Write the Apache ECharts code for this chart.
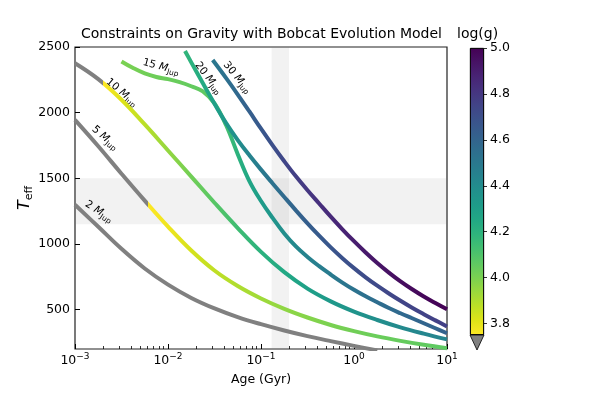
<!DOCTYPE html>
<html>
<head>
<meta charset="utf-8">
<script src="https://cdn.jsdelivr.net/npm/echarts@6/dist/echarts.min.js"></script>
<style>
html,body{margin:0;padding:0;background:#fff;}
#c{width:600px;height:400px;}
</style>
</head>
<body>
<div id="c"></div>
<script>
// ---------- axis ticks ----------
const xTicks = [0.001, 0.01, 0.1, 1, 10];
const xMinorTicks = [0.002,0.003,0.004,0.005,0.006,0.007,0.008,0.009,
                     0.02,0.03,0.04,0.05,0.06,0.07,0.08,0.09,
                     0.2,0.3,0.4,0.5,0.6,0.7,0.8,0.9,
                     2,3,4,5,6,7,8,9];
const yTicks = [500, 1000, 1500, 2000, 2500];
const cbTicks = [3.8, 4.0, 4.2, 4.4, 4.6, 4.8, 5.0];

// ---------- shaded constraint bands ----------
const tBand = [1150, 1500];     // Teff range
const ageBand = [0.13, 0.2];    // age range (Gyr)

// ---------- evolution tracks: age (Gyr), Teff (K), log(g) ----------
const age2  = [0.001, 0.00178, 0.00316, 0.00562, 0.01, 0.0178, 0.0316, 0.0562, 0.1, 0.178, 0.316, 0.562, 1, 1.78];
const teff2 = [1299, 1131, 963, 813, 690, 589, 509, 443, 389, 341, 298, 260, 224, 189];
const logg2 = [3.20, 3.25, 3.30, 3.35, 3.40, 3.44, 3.48, 3.51, 3.54, 3.57, 3.59, 3.61, 3.62, 3.63];

const age5  = [0.001, 0.00178, 0.00316, 0.00562, 0.01, 0.0178, 0.0316, 0.0562, 0.1, 0.178, 0.316, 0.562, 1, 1.78, 3.16, 5.62, 10];
const teff5 = [1945, 1744, 1535, 1330, 1132, 950, 798, 680, 585, 506, 440, 383, 336, 296, 262, 232, 206];
const logg5 = [3.58, 3.63, 3.68, 3.745, 3.78, 3.83, 3.87, 3.90, 3.93, 3.96, 3.98, 4.00, 4.02, 4.035, 4.045, 4.055, 4.065];

const age10  = [0.001, 0.00178, 0.00316, 0.00562, 0.01, 0.0178, 0.0316, 0.0562, 0.1, 0.178, 0.316, 0.562, 1, 1.78, 3.16, 5.62, 10];
const teff10 = [2376, 2255, 2098, 1910, 1712, 1513, 1314, 1121, 940, 785, 660, 563, 485, 421, 365, 317, 273];
const logg10 = [3.65, 3.735, 3.81, 3.88, 3.95, 4.02, 4.08, 4.14, 4.20, 4.25, 4.29, 4.33, 4.36, 4.39, 4.41, 4.43, 4.44];

const age15  = [0.003162, 0.004217, 0.005623, 0.007499, 0.01, 0.01334, 0.01778, 0.02371, 0.03162, 0.04217,
                0.05623, 0.07499, 0.1, 0.1334, 0.1778, 0.2371, 0.3162, 0.4217, 0.5623, 0.7499,
                1, 1.334, 1.778, 2.371, 3.162, 4.217, 5.623, 7.499, 10];
const teff15 = [2390, 2340, 2299, 2272, 2255, 2232, 2201, 2162, 2071, 1904,
                1684, 1479, 1327, 1198, 1080, 981, 901, 831, 767, 706,
                651, 601, 556, 512, 472, 434, 396, 358, 320];
const logg15 = [4.00, 4.01, 4.02, 4.03, 4.035, 4.04, 4.05, 4.06, 4.08, 4.13,
                4.20, 4.26, 4.31, 4.35, 4.39, 4.42, 4.45, 4.47, 4.49, 4.51,
                4.53, 4.54, 4.555, 4.565, 4.575, 4.585, 4.595, 4.60, 4.61];

const age20  = [0.01524, 0.01778, 0.02371, 0.03162, 0.04217, 0.05623, 0.07499, 0.1, 0.1334, 0.1778, 0.2371, 0.3162,
                0.4217, 0.5623, 0.7499, 1, 1.334, 1.778, 2.371, 3.162, 4.217, 5.623, 7.499, 10];
const teff20 = [2470, 2383, 2224, 2068, 1920, 1791, 1675, 1566, 1461, 1358, 1256, 1157,
                1063, 974, 892, 816, 746, 682, 623, 567, 514, 465, 418, 372];
const logg20 = [4.18, 4.20, 4.24, 4.29, 4.34, 4.39, 4.44, 4.49, 4.53, 4.57, 4.60, 4.63,
                4.65, 4.67, 4.69, 4.70, 4.715, 4.725, 4.735, 4.745, 4.75, 4.755, 4.76, 4.765];

const age30  = [0.03024, 0.04217, 0.05623, 0.07499, 0.1, 0.1334, 0.1778, 0.2371, 0.3162, 0.4217, 0.5623,
                0.7499, 1, 1.334, 1.778, 2.371, 3.162, 4.217, 5.623, 7.499, 10];
const teff30 = [2401, 2263, 2138, 2009, 1878, 1751, 1630, 1515, 1409, 1308, 1208,
                1112, 1021, 935, 855, 782, 715, 655, 600, 550, 502];
const logg30 = [4.50, 4.54, 4.58, 4.62, 4.66, 4.70, 4.74, 4.77, 4.80, 4.83, 4.855,
                4.875, 4.895, 4.915, 4.93, 4.945, 4.96, 4.97, 4.98, 4.99, 5.00];

const masses = ['2', '5', '10', '15', '20', '30'];

// ---------- colour map (viridis, reversed, with grey "under" colour) ----------
const VIRIDIS = ['#440154','#471365','#482475','#463480','#414487','#3b528b','#355f8d','#2f6c8e','#2a788e','#25848e',
                 '#21918c','#1e9c89','#22a884','#2fb47c','#44bf70','#5ec962','#7ad151','#9bd93c','#bddf26','#dfe318','#fde725'];
const G_MIN = 3.75, G_MAX = 5.0, UNDER = '#808080';
function hexRgb(h){ return [parseInt(h.substr(1,2),16), parseInt(h.substr(3,2),16), parseInt(h.substr(5,2),16)]; }
function viridis(t){
  t = Math.max(0, Math.min(1, t));
  const p = t * (VIRIDIS.length - 1), i = Math.min(Math.floor(p), VIRIDIS.length - 2), f = p - i;
  const a = hexRgb(VIRIDIS[i]), b = hexRgb(VIRIDIS[i+1]);
  return 'rgb(' + a.map((v,k)=>Math.round(v + (b[k]-v)*f)).join(',') + ')';
}
function gColor(g){
  if (g < G_MIN) return UNDER;
  return viridis(1 - Math.min(1, (g - G_MIN) / (G_MAX - G_MIN)));
}

const curves = [
  {m: '2',  age: age2,  teff: teff2,  logg: logg2},
  {m: '5',  age: age5,  teff: teff5,  logg: logg5},
  {m: '10', age: age10, teff: teff10, logg: logg10},
  {m: '15', age: age15, teff: teff15, logg: logg15},
  {m: '20', age: age20, teff: teff20, logg: logg20},
  {m: '30', age: age30, teff: teff30, logg: logg30}
];

// label anchor (data space) and rotation for the inline mass labels
const labelSpec = {
  '2':  {at: [0.00181, 1246], rot: -33},
  '5':  {at: [0.0021, 1808],  rot: -40},
  '10': {at: [0.00318, 2154], rot: -40},
  '15': {at: [0.0084, 2348],  rot: -15},
  '20': {at: [0.0272, 2264],  rot: -52},
  '30': {at: [0.0555, 2268],  rot: -50}
};

const FONT = 'DejaVu Sans';
const labelRich = {
  n: {fontSize: 10.5, fontFamily: FONT, color: '#000', lineHeight: 14},
  m: {fontSize: 10.5, fontFamily: FONT, fontStyle: 'italic', color: '#000', lineHeight: 14},
  s: {fontSize: 7.5,  fontFamily: FONT, color: '#000', lineHeight: 8, verticalAlign: 'bottom'}
};

const chart = echarts.init(document.getElementById('c'), null, {renderer: 'canvas'});

function buildOption(grads){
  const series = [];
  // bands
  series.push({
    type: 'line', xAxisIndex: 0, yAxisIndex: 0, data: [], z: 1, silent: true,
    markArea: {
      silent: true,
      label: {show: false},
      itemStyle: {color: 'rgba(128,128,128,0.1)'},
      data: [
        [{yAxis: tBand[0]}, {yAxis: tBand[1]}],
        [{xAxis: ageBand[0]}, {xAxis: ageBand[1]}]
      ]
    }
  });
  curves.forEach((c, ci) => {
    const ls = labelSpec[c.m];
    series.push({
      type: 'line', name: c.m + ' MJup', xAxisIndex: 0, yAxisIndex: 0,
      data: c.age.map((a, i) => [a, c.teff[i], c.logg[i]]),
      showSymbol: false, smooth: 0.4, z: 3 + ci,
      lineStyle: {width: 4, cap: 'butt', join: 'round', color: grads ? grads[ci] : UNDER},
      emphasis: {disabled: true}, silent: true,
      markPoint: {
        symbol: 'circle', symbolSize: 0, silent: true,
        data: [{
          coord: ls.at,
          label: {show: true, position: 'inside', rotate: ls.rot,
                  formatter: '{n|' + c.m + ' }{m|M}{s|Jup}', rich: labelRich}
        }]
      }
    });
  });
  // colorbar: transparent base + gradient bar + under-triangle
  series.push({
    type: 'bar', xAxisIndex: 2, yAxisIndex: 1, stack: 'cb', data: [G_MIN], barWidth: '100%',
    itemStyle: {color: 'rgba(0,0,0,0)'}, silent: true, clip: true
  });
  series.push({
    type: 'bar', xAxisIndex: 2, yAxisIndex: 1, stack: 'cb', data: [G_MAX - G_MIN], barWidth: '100%',
    silent: true, clip: false,
    itemStyle: {
      borderColor: '#000', borderWidth: 0.8,
      color: {type: 'linear', x: 0, y: 1, x2: 0, y2: 0,
              colorStops: VIRIDIS.map((col, k) => ({offset: k / (VIRIDIS.length - 1), color: VIRIDIS[VIRIDIS.length - 1 - k]}))}
    }
  });
  series.push({
    type: 'scatter', xAxisIndex: 2, yAxisIndex: 1, data: [[0, G_MIN]], clip: false, silent: true,
    symbol: 'path://M0,0 L2,0 L1,2 Z', symbolSize: [14, 15], symbolOffset: [0, '50%'],
    itemStyle: {color: UNDER, borderColor: '#000', borderWidth: 0.8, opacity: 1}
  });

  return {
    animation: false,
    backgroundColor: '#fff',
    title: [
      {text: 'Constraints on Gravity with Bobcat Evolution Model', left: 81, top: 27, padding: 0,
       textStyle: {fontFamily: FONT, fontSize: 14, fontWeight: 'normal', color: '#000'}},
      {text: 'log(g)', left: 457, top: 27, padding: 0,
       textStyle: {fontFamily: FONT, fontSize: 14, fontWeight: 'normal', color: '#000'}}
    ],
    grid: [
      {left: 75, top: 47, width: 372, height: 302, show: true, borderColor: '#222', borderWidth: 1.2,
       backgroundColor: 'transparent', containLabel: false, outerBoundsMode: 'none'},
      {left: 470, top: 48, width: 14, height: 287, show: false, containLabel: false, outerBoundsMode: 'none'}
    ],
    xAxis: [
      {type: 'log', logBase: 10, gridIndex: 0, min: 0.001, max: 10, position: 'bottom',
       name: 'Age (Gyr)', nameLocation: 'middle', nameGap: 24, nameMoveOverlap: false,
       nameTextStyle: {fontFamily: FONT, fontSize: 12.5, color: '#000'},
       axisLine: {show: false},
       axisTick: {show: true, inside: true, length: 5, customValues: xTicks, lineStyle: {color: '#000', width: 1}},
       minorTick: {show: false}, splitLine: {show: false},
       axisLabel: {show: true, margin: 3, customValues: xTicks, color: '#000',
         formatter: v => { const e = Math.round(Math.log10(v)); return '{b|10}{sup|' + (e < 0 ? '\u2212' + (-e) : e) + '}'; },
         rich: {b: {fontFamily: FONT, fontSize: 12.5, color: '#000', lineHeight: 18},
                sup: {fontFamily: FONT, fontSize: 9, color: '#000', lineHeight: 10, verticalAlign: 'top'}}}
      },
      {type: 'log', logBase: 10, gridIndex: 0, min: 0.001, max: 10, position: 'bottom',
       axisLine: {show: false}, axisLabel: {show: false}, splitLine: {show: false},
       axisTick: {show: true, inside: true, length: 3, customValues: xMinorTicks, lineStyle: {color: '#000', width: 0.8}}
      },
      {type: 'category', gridIndex: 1, data: ['cb'], show: false}
    ],
    yAxis: [
      {type: 'value', gridIndex: 0, min: 200, max: 2500,
       name: '{t|T}{e|eff}', nameLocation: 'middle', nameRotate: 90, nameGap: 40, nameMoveOverlap: false,
       nameTextStyle: {rich: {t: {fontFamily: FONT, fontSize: 16, fontStyle: 'italic', color: '#000', lineHeight: 20},
                              e: {fontFamily: FONT, fontSize: 11, color: '#000', lineHeight: 11, verticalAlign: 'bottom'}}},
       axisLine: {show: false}, splitLine: {show: false},
       axisTick: {show: true, inside: true, length: 5, customValues: yTicks, lineStyle: {color: '#000', width: 1}},
       axisLabel: {show: true, margin: 5, customValues: yTicks, color: '#000', fontFamily: FONT, fontSize: 12.5,
                   formatter: v => String(v)}
      },
      {type: 'value', gridIndex: 1, min: G_MIN, max: G_MAX, position: 'right',
       axisLine: {show: false}, splitLine: {show: false},
       axisTick: {show: true, inside: false, length: 3, customValues: cbTicks, lineStyle: {color: '#000', width: 0.8}},
       axisLabel: {show: true, margin: 6, customValues: cbTicks, color: '#000', fontFamily: FONT, fontSize: 12.5,
                   formatter: v => v.toFixed(1)}
      }
    ],
    series: series
  };
}

chart.setOption(buildOption(null));

function buildGradient(c){
  const px = c.age.map((a, i) => chart.convertToPixel({gridIndex: 0}, [a, c.teff[i]])[0]);
  const x0 = px[0], x1 = px[px.length - 1], w = (x1 - x0) || 1;
  const stops = [];
  for (let i = 0; i < px.length; i++){
    const off = Math.max(0, Math.min(1, (px[i] - x0) / w));
    if (i > 0){
      const ga = c.logg[i-1], gb = c.logg[i];
      if (ga < G_MIN && gb >= G_MIN){
        const prev = (px[i-1] - x0) / w;
        const ot = prev + (G_MIN - ga) / (gb - ga) * (off - prev);
        stops.push({offset: ot, color: UNDER}, {offset: ot, color: gColor(G_MIN)});
      }
    }
    stops.push({offset: off, color: gColor(c.logg[i])});
  }
  return {type: 'linear', x: x0, y: 0, x2: x1, y2: 0, global: true, colorStops: stops};
}

chart.setOption(buildOption(curves.map(buildGradient)));
</script>
</body>
</html>
